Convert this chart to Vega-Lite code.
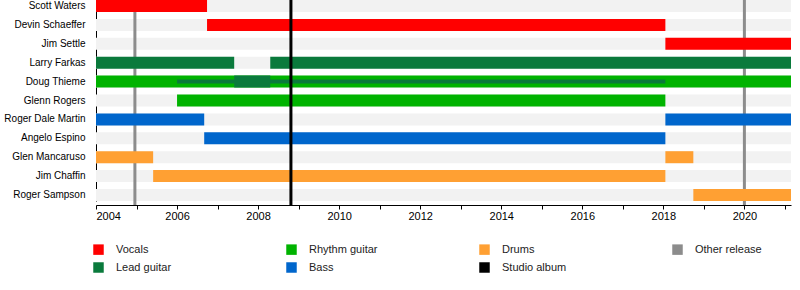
{
  "$schema": "https://vega.github.io/schema/vega-lite/v6.json",
  "autosize": "none",
  "width": 695,
  "height": 205,
  "padding": {"left": 96, "top": 0, "right": 9, "bottom": 85},
  "background": "white",
  "config": {
    "view": {"stroke": null},
    "font": "Liberation Sans",
    "axis": {"labelFont": "Liberation Sans", "labelColor": "black", "labelFontSize": 11, "grid": false},
    "legend": {"labelFont": "Liberation Sans"}
  },
  "datasets": {
    "members": [
      {"member": "Scott Waters"}, {"member": "Devin Schaeffer"}, {"member": "Jim Settle"},
      {"member": "Larry Farkas"}, {"member": "Doug Thieme"}, {"member": "Glenn Rogers"},
      {"member": "Roger Dale Martin"}, {"member": "Angelo Espino"}, {"member": "Glen Mancaruso"},
      {"member": "Jim Chaffin"}, {"member": "Roger Sampson"}
    ],
    "bars": [
      {"member": "Scott Waters", "role": "Vocals", "start": 2004, "end": 2006.74},
      {"member": "Devin Schaeffer", "role": "Vocals", "start": 2006.74, "end": 2018.05},
      {"member": "Jim Settle", "role": "Vocals", "start": 2018.05, "end": 2021.15},
      {"member": "Larry Farkas", "role": "Lead guitar", "start": 2004, "end": 2007.41},
      {"member": "Larry Farkas", "role": "Lead guitar", "start": 2008.3, "end": 2021.15},
      {"member": "Doug Thieme", "role": "Rhythm guitar", "start": 2004, "end": 2021.15},
      {"member": "Doug Thieme", "role": "Lead guitar", "start": 2007.41, "end": 2008.3},
      {"member": "Glenn Rogers", "role": "Rhythm guitar", "start": 2006.0, "end": 2018.05},
      {"member": "Roger Dale Martin", "role": "Bass", "start": 2004, "end": 2006.67},
      {"member": "Roger Dale Martin", "role": "Bass", "start": 2018.05, "end": 2021.15},
      {"member": "Angelo Espino", "role": "Bass", "start": 2006.67, "end": 2018.05},
      {"member": "Glen Mancaruso", "role": "Drums", "start": 2004, "end": 2005.41},
      {"member": "Glen Mancaruso", "role": "Drums", "start": 2018.05, "end": 2018.74},
      {"member": "Jim Chaffin", "role": "Drums", "start": 2005.41, "end": 2018.05},
      {"member": "Roger Sampson", "role": "Drums", "start": 2018.74, "end": 2021.15}
    ],
    "thin": [
      {"member": "Doug Thieme", "role": "Lead guitar", "start": 2006.0, "end": 2018.05}
    ],
    "other": [
      {"role": "Other release", "date": 2004.96},
      {"role": "Other release", "date": 2020.0}
    ],
    "studio": [
      {"role": "Studio album", "date": 2008.81}
    ]
  },
  "layer": [
    {
      "data": {"name": "members"},
      "mark": {"type": "bar", "color": "#f2f2f2"},
      "encoding": {
        "y": {"field": "member", "type": "nominal", "sort": null,
              "scale": {"domain": ["Scott Waters", "Devin Schaeffer", "Jim Settle", "Larry Farkas", "Doug Thieme", "Glenn Rogers", "Roger Dale Martin", "Angelo Espino", "Glen Mancaruso", "Jim Chaffin", "Roger Sampson"], "paddingInner": 0.365, "paddingOuter": 0, "range": [0, 201]},
              "axis": {"title": null, "ticks": false, "domainColor": "black", "labelPadding": 11, "labelFontSize": 10}},
        "x": {"datum": 2004, "type": "quantitative",
              "scale": {"domain": [2004, 2021.15], "nice": false, "zero": false},
              "axis": {"title": null, "values": [2004,2005,2006,2007,2008,2009,2010,2011,2012,2013,2014,2015,2016,2017,2018,2019,2020,2021],
                       "labelExpr": "datum.value % 2 == 0 ? datum.value : ''", "domainColor": "black", "tickColor": "black", "tickSize": 4, "labelPadding": 1, "offset": 0}},
        "x2": {"datum": 2021.15}
      }
    },
    {
      "data": {"name": "other"},
      "mark": {"type": "rule", "strokeWidth": 3},
      "encoding": {
        "x": {"field": "date", "type": "quantitative"},
        "color": {"field": "role", "type": "nominal"}
      }
    },
    {
      "data": {"name": "bars"},
      "mark": {"type": "bar"},
      "encoding": {
        "y": {"field": "member", "type": "nominal", "sort": null},
        "x": {"field": "start", "type": "quantitative"},
        "x2": {"field": "end"},
        "color": {"field": "role", "type": "nominal",
                  "scale": {"domain": ["Vocals", "Lead guitar", "Rhythm guitar", "Bass", "Drums", "Studio album", "Other release"],
                            "range": ["#ff0000", "#0a7a3c", "#00b300", "#0066cc", "#ffa033", "#000000", "#8c8c8c"]},
                  "legend": {"title": null, "orient": "none", "legendX": -3, "legendY": 244, "columns": 4, "gridAlign": "all",
                             "columnPadding": 101, "rowPadding": 6, "symbolType": "square", "symbolSize": 110,
                             "symbolStrokeWidth": 0, "labelFontSize": 11, "labelColor": "#222", "labelOffset": 12}}
      }
    },
    {
      "data": {"name": "thin"},
      "mark": {"type": "bar", "size": 4},
      "encoding": {
        "y": {"field": "member", "type": "nominal", "sort": null},
        "x": {"field": "start", "type": "quantitative"},
        "x2": {"field": "end"},
        "color": {"field": "role", "type": "nominal"}
      }
    },
    {
      "data": {"name": "studio"},
      "mark": {"type": "rule", "strokeWidth": 3},
      "encoding": {
        "x": {"field": "date", "type": "quantitative"},
        "color": {"field": "role", "type": "nominal"}
      }
    }
  ]
}
